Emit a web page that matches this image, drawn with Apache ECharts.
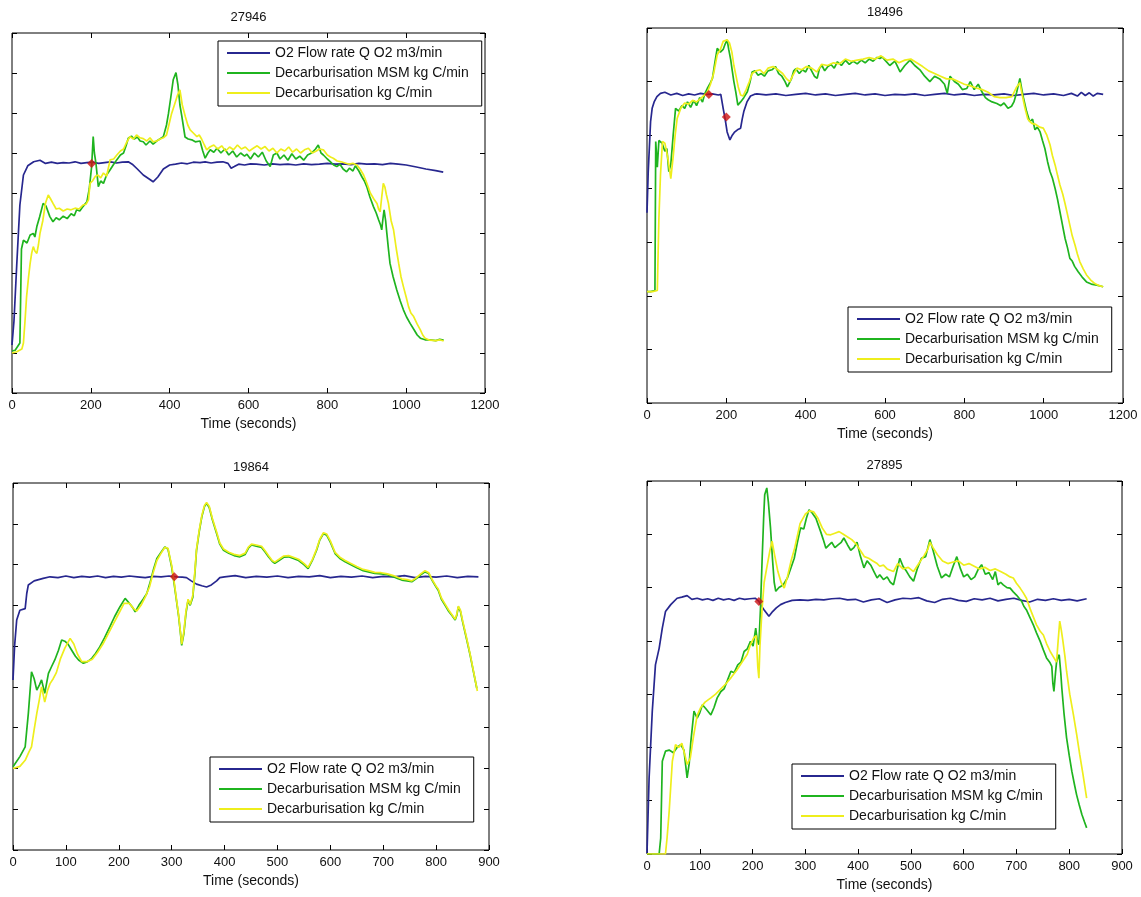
<!DOCTYPE html>
<html>
<head>
<meta charset="utf-8">
<script src="https://cdn.jsdelivr.net/npm/echarts@6/dist/echarts.min.js"></script>
<style>
html, body {margin: 0; padding: 0; background: #fff;}
#chart {width: 1141px; height: 897px;}
</style>
</head>
<body>
<div id="chart"></div>
<script>
var names = ['O2 Flow rate Q O2 m3/min', 'Decarburisation MSM kg C/min', 'Decarburisation kg C/min'];
var titles = ['27946', '18496', '19864', '27895'];
var xMax = [1200, 1200, 900, 900];
var xStep = [200, 200, 100, 100];
var yMax = [9, 7, 9, 7];

// heat 27946
var o2_27946 = [[0,1.2],[5,1.8],[12,3.2],[20,4.7],[29,5.45],[40,5.68],[55,5.78],[71,5.82],[85,5.74],[100,5.77],[115,5.74],[130,5.76],[145,5.75],[160,5.78],[175,5.74],[190,5.76],[205,5.77],[220,5.74],[235,5.76],[250,5.78],[265,5.75],[280,5.77],[295,5.78],[305,5.72],[318,5.6],[333,5.45],[348,5.35],[358,5.28],[370,5.4],[384,5.6],[400,5.7],[415,5.72],[430,5.75],[445,5.73],[460,5.77],[477,5.76],[490,5.78],[505,5.75],[520,5.77],[535,5.78],[548,5.74],[556,5.62],[564,5.66],[575,5.72],[590,5.7],[605,5.73],[620,5.72],[640,5.7],[660,5.73],[680,5.71],[700,5.72],[720,5.7],[740,5.73],[760,5.71],[780,5.72],[800,5.74],[820,5.72],[840,5.73],[860,5.71],[880,5.74],[900,5.72],[920,5.73],[940,5.71],[960,5.74],[980,5.72],[1000,5.7],[1026,5.65],[1050,5.6],[1075,5.56],[1094,5.52]];
var msm_27946 = [[0,1.05],[8,1.07],[20,1.25],[24,3.6],[29,3.82],[38,3.75],[46,3.95],[54,3.99],[58,3.9],[63,4.16],[70,4.4],[79,4.74],[86,4.68],[96,4.41],[104,4.28],[112,4.38],[120,4.33],[130,4.42],[140,4.36],[150,4.48],[158,4.43],[164,4.58],[172,4.55],[180,4.66],[190,4.78],[196,5.1],[202,5.66],[206,6.41],[209,6.0],[213,5.74],[219,5.16],[225,5.3],[232,5.24],[240,5.45],[249,5.58],[258,5.72],[266,5.83],[275,5.95],[283,6.0],[290,6.2],[295,6.37],[303,6.42],[310,6.35],[318,6.4],[325,6.3],[333,6.28],[340,6.2],[350,6.3],[358,6.22],[367,6.3],[375,6.35],[384,6.41],[392,6.7],[397,6.99],[403,7.4],[409,7.83],[416,8.01],[421,7.7],[426,7.2],[431,6.91],[439,6.4],[447,6.35],[456,6.33],[465,6.28],[477,6.3],[484,6.05],[490,5.87],[497,6.0],[503,6.08],[512,6.02],[520,6.12],[530,6.0],[540,6.1],[550,5.95],[560,6.05],[570,5.9],[580,6.0],[590,5.92],[596,5.97],[605,5.85],[615,6.0],[625,5.9],[635,6.02],[645,5.8],[655,5.66],[663,5.95],[672,6.0],[680,5.85],[690,5.95],[700,5.82],[710,5.98],[720,5.85],[730,5.92],[740,5.82],[750,5.95],[760,6.0],[770,6.1],[777,6.2],[784,6.0],[790,5.95],[800,5.85],[808,5.78],[816,5.7],[824,5.66],[832,5.72],[840,5.6],[849,5.53],[856,5.62],[865,5.55],[871,5.68],[880,5.55],[888,5.4],[894,5.3],[900,5.16],[908,4.9],[917,4.66],[924,4.5],[930,4.33],[935,4.2],[938,4.08],[941,4.35],[944,4.58],[948,4.3],[951,3.99],[955,3.6],[959,3.24],[967,2.9],[976,2.58],[985,2.3],[993,2.08],[1001,1.9],[1010,1.74],[1020,1.58],[1028,1.45],[1036,1.37],[1048,1.33],[1061,1.33],[1075,1.31],[1085,1.34],[1095,1.32]];
var dec_27946 = [[0,1.0],[12,1.03],[25,1.1],[29,1.25],[33,1.8],[37,2.41],[42,2.9],[46,3.24],[50,3.5],[54,3.66],[58,3.55],[63,3.49],[67,3.7],[71,3.99],[78,4.3],[85,4.75],[92,4.95],[98,4.85],[104,4.74],[112,4.6],[120,4.62],[130,4.55],[140,4.6],[150,4.58],[160,4.62],[170,4.6],[180,4.7],[188,4.72],[194,4.83],[198,5.24],[204,5.3],[211,5.41],[218,5.45],[225,5.38],[232,5.5],[240,5.42],[249,5.83],[258,5.85],[266,5.95],[275,6.05],[283,6.1],[290,6.25],[299,6.41],[308,6.35],[316,6.45],[325,6.38],[333,6.36],[342,6.3],[350,6.38],[358,6.28],[367,6.3],[376,6.35],[384,6.38],[392,6.45],[398,6.7],[405,6.99],[412,7.2],[420,7.45],[426,7.58],[432,7.2],[440,6.9],[446,6.7],[452,6.58],[460,6.5],[469,6.41],[475,6.45],[481,6.35],[488,6.2],[494,6.08],[502,6.15],[512,6.2],[522,6.1],[532,6.18],[542,6.05],[552,6.15],[562,6.08],[572,6.2],[582,6.1],[592,6.15],[602,6.05],[612,6.12],[622,6.18],[632,6.1],[642,6.16],[652,6.05],[662,6.12],[672,6.0],[682,6.1],[692,6.05],[702,6.15],[712,6.02],[722,6.1],[732,6.0],[742,6.08],[752,6.12],[762,6.0],[772,6.05],[780,6.1],[790,6.08],[800,5.95],[808,5.9],[815,5.87],[825,5.8],[835,5.78],[845,5.75],[855,5.72],[865,5.74],[875,5.7],[883,5.6],[892,5.45],[900,5.25],[909,5.0],[918,4.85],[926,4.74],[930,4.6],[934,4.53],[938,4.9],[942,5.24],[946,5.15],[950,4.95],[955,4.74],[962,4.3],[968,4.08],[975,3.6],[981,3.24],[987,2.9],[993,2.66],[1000,2.4],[1006,2.16],[1012,2.0],[1019,1.91],[1028,1.72],[1036,1.58],[1042,1.45],[1048,1.37],[1060,1.32],[1075,1.31],[1085,1.33],[1095,1.3]];
var mark_27946 = [[202,5.74]];

// heat 18496
var o2_18496 = [[0,3.55],[3,4.3],[9,5.25],[13,5.5],[18,5.62],[25,5.72],[34,5.78],[45,5.8],[60,5.75],[75,5.78],[90,5.74],[105,5.77],[120,5.75],[135,5.78],[150,5.76],[165,5.77],[180,5.75],[186,5.76],[192,5.5],[197,5.3],[202,5.06],[209,4.91],[215,5.0],[220,5.05],[228,5.1],[236,5.13],[240,5.3],[244,5.44],[252,5.62],[261,5.73],[270,5.76],[277,5.77],[300,5.75],[325,5.77],[350,5.74],[375,5.76],[400,5.78],[425,5.75],[450,5.77],[475,5.74],[500,5.76],[525,5.78],[550,5.75],[575,5.77],[600,5.74],[625,5.76],[650,5.75],[675,5.77],[700,5.74],[725,5.76],[750,5.78],[775,5.75],[800,5.77],[825,5.74],[850,5.76],[875,5.75],[900,5.77],[925,5.74],[950,5.76],[975,5.78],[1000,5.75],[1025,5.77],[1050,5.74],[1070,5.78],[1085,5.73],[1095,5.8],[1105,5.74],[1115,5.79],[1125,5.73],[1135,5.78],[1150,5.76]];
var msm_18496 = [[0,2.08],[9,2.08],[20,2.1],[22,4.88],[26,4.4],[30,4.9],[38,4.85],[45,4.7],[50,4.75],[55,4.32],[60,4.45],[66,5.0],[72,5.5],[80,5.45],[88,5.55],[95,5.5],[102,5.62],[110,5.52],[118,5.65],[125,5.55],[133,5.7],[140,5.62],[146,5.78],[152,5.87],[158,5.95],[165,6.06],[171,6.35],[177,6.62],[185,6.55],[192,6.6],[197,6.7],[202,6.78],[206,6.6],[211,6.41],[215,6.2],[219,6.0],[224,5.8],[229,5.56],[236,5.62],[244,5.7],[253,5.81],[260,6.0],[265,6.18],[272,6.2],[280,6.12],[288,6.15],[296,6.1],[305,6.2],[315,6.22],[324,6.28],[332,6.15],[340,6.1],[348,6.0],[354,5.9],[358,5.87],[364,6.05],[370,6.2],[375,6.24],[384,6.15],[392,6.22],[400,6.18],[408,6.3],[415,6.2],[422,6.1],[429,6.06],[435,6.25],[441,6.3],[448,6.2],[456,6.28],[464,6.32],[472,6.25],[480,6.37],[490,6.3],[500,6.4],[510,6.32],[520,6.38],[530,6.33],[540,6.4],[550,6.35],[560,6.42],[570,6.38],[580,6.45],[587,6.43],[593,6.46],[600,6.4],[612,6.3],[625,6.38],[638,6.18],[650,6.3],[663,6.4],[675,6.3],[688,6.22],[700,6.1],[713,6.0],[725,6.1],[738,6.05],[750,5.95],[757,5.78],[764,6.1],[775,6.0],[785,5.95],[795,5.85],[806,5.87],[815,6.0],[825,5.85],[835,5.95],[845,5.8],[853,5.7],[860,5.66],[870,5.62],[882,5.59],[892,5.55],[900,5.6],[910,5.5],[919,5.54],[925,5.62],[932,5.8],[940,6.06],[945,5.85],[949,5.7],[957,5.44],[965,5.25],[972,5.3],[978,5.1],[984,5.15],[991,5.06],[997,4.9],[1003,4.75],[1010,4.5],[1016,4.32],[1022,4.2],[1029,4.0],[1035,3.8],[1041,3.57],[1048,3.3],[1054,3.07],[1060,2.9],[1066,2.7],[1072,2.65],[1078,2.55],[1087,2.45],[1097,2.35],[1108,2.26],[1120,2.22],[1134,2.2],[1150,2.17]];
var dec_18496 = [[0,2.08],[14,2.08],[26,2.1],[30,3.45],[34,4.26],[39,4.88],[45,4.85],[52,4.6],[56,4.4],[60,4.19],[66,4.6],[71,5.0],[76,5.31],[85,5.5],[95,5.6],[105,5.58],[115,5.65],[125,5.62],[135,5.68],[145,5.75],[152,5.8],[160,5.95],[168,6.15],[177,6.5],[185,6.6],[192,6.75],[202,6.78],[208,6.72],[214,6.55],[219,6.3],[224,6.12],[230,5.9],[236,5.75],[242,5.73],[250,5.85],[258,6.0],[265,6.15],[275,6.2],[285,6.22],[295,6.15],[305,6.25],[318,6.28],[330,6.22],[342,6.15],[352,6.05],[360,6.0],[368,6.12],[378,6.25],[390,6.22],[402,6.28],[415,6.25],[428,6.18],[440,6.32],[455,6.3],[470,6.35],[485,6.33],[500,6.42],[515,6.38],[530,6.4],[545,6.42],[560,6.45],[575,6.42],[590,6.48],[605,6.4],[620,6.42],[635,6.35],[650,6.4],[665,6.42],[680,6.35],[695,6.28],[710,6.2],[725,6.15],[740,6.1],[755,6.05],[770,6.05],[785,6.0],[800,5.95],[815,5.92],[830,5.88],[845,5.85],[860,5.8],[875,5.72],[890,5.7],[905,5.7],[920,5.72],[932,5.9],[940,5.98],[946,5.75],[953,5.5],[960,5.3],[970,5.22],[980,5.2],[990,5.15],[999,5.13],[1008,5.0],[1016,4.82],[1022,4.62],[1029,4.44],[1035,4.25],[1041,4.07],[1048,3.9],[1054,3.72],[1060,3.52],[1066,3.32],[1072,3.12],[1079,2.95],[1085,2.78],[1091,2.64],[1100,2.5],[1108,2.39],[1118,2.3],[1129,2.23],[1140,2.19],[1150,2.17]];
var mark_18496 = [[156,5.76],[200,5.34]];

// heat 19864
var o2_19864 = [[0,4.17],[3,5.0],[7,5.64],[13,5.88],[23,5.92],[26,6.29],[29,6.5],[40,6.6],[57,6.66],[70,6.7],[85,6.68],[100,6.72],[115,6.68],[130,6.71],[145,6.69],[160,6.72],[175,6.68],[190,6.71],[205,6.69],[220,6.72],[235,6.7],[250,6.68],[265,6.71],[280,6.7],[295,6.72],[310,6.7],[320,6.69],[328,6.68],[337,6.6],[347,6.52],[357,6.48],[366,6.45],[375,6.5],[385,6.6],[391,6.68],[400,6.7],[420,6.73],[440,6.68],[460,6.71],[480,6.69],[500,6.72],[520,6.68],[540,6.71],[560,6.7],[580,6.73],[600,6.68],[620,6.71],[640,6.69],[660,6.72],[680,6.68],[700,6.71],[720,6.7],[740,6.73],[760,6.68],[780,6.71],[800,6.69],[820,6.72],[840,6.68],[860,6.71],[880,6.7]];
var msm_19864 = [[0,2.04],[13,2.29],[23,2.53],[29,3.35],[35,4.37],[40,4.2],[45,3.92],[50,4.05],[54,4.17],[60,3.84],[67,4.33],[73,4.5],[79,4.66],[86,4.9],[92,5.15],[98,5.12],[104,5.05],[111,4.9],[118,4.75],[124,4.66],[133,4.58],[141,4.62],[149,4.7],[156,4.82],[164,4.98],[173,5.2],[183,5.47],[192,5.72],[202,5.96],[212,6.17],[220,6.05],[226,5.95],[231,5.84],[238,6.0],[246,6.15],[253,6.29],[260,6.6],[266,6.9],[272,7.15],[280,7.3],[287,7.43],[293,7.38],[300,6.94],[305,6.5],[309,6.13],[313,5.75],[316,5.39],[319,5.02],[323,5.3],[327,5.8],[331,6.13],[335,6.0],[340,6.2],[344,6.8],[347,7.35],[352,7.8],[357,8.17],[362,8.42],[366,8.5],[371,8.4],[377,8.1],[385,7.76],[391,7.5],[398,7.35],[408,7.28],[418,7.22],[429,7.19],[439,7.25],[445,7.4],[451,7.48],[460,7.45],[470,7.42],[477,7.3],[483,7.19],[490,7.08],[495,7.03],[503,7.1],[512,7.18],[521,7.19],[530,7.15],[540,7.1],[550,7.0],[558,6.9],[566,7.1],[574,7.35],[580,7.6],[587,7.76],[593,7.72],[600,7.55],[609,7.27],[618,7.15],[628,7.07],[638,7.0],[650,6.92],[662,6.85],[672,6.82],[684,6.78],[696,6.77],[708,6.75],[719,6.7],[727,6.66],[735,6.62],[745,6.6],[754,6.58],[762,6.65],[771,6.75],[779,6.82],[786,6.78],[793,6.6],[800,6.45],[804,6.37],[810,6.15],[817,6.0],[824,5.85],[830,5.75],[836,5.64],[839,5.75],[842,5.96],[846,5.85],[850,5.6],[858,5.15],[864,4.8],[870,4.41],[877,3.96]];
var dec_19864 = [[0,2.0],[13,2.05],[23,2.2],[30,2.4],[35,2.53],[40,2.95],[45,3.35],[50,3.7],[54,4.0],[60,3.63],[65,3.9],[70,4.08],[76,4.2],[82,4.35],[90,4.7],[98,4.95],[108,5.19],[115,5.05],[122,4.8],[130,4.62],[140,4.62],[150,4.68],[160,4.85],[170,5.05],[180,5.3],[190,5.55],[200,5.8],[210,6.05],[220,6.05],[228,5.92],[234,5.86],[242,6.0],[250,6.2],[258,6.45],[265,6.8],[272,7.1],[280,7.28],[287,7.42],[293,7.4],[300,6.98],[305,6.55],[309,6.15],[313,5.78],[316,5.42],[319,5.05],[323,5.35],[327,5.85],[331,6.15],[335,6.02],[340,6.25],[344,6.85],[347,7.38],[352,7.83],[357,8.2],[362,8.45],[366,8.52],[371,8.43],[377,8.13],[385,7.8],[391,7.53],[398,7.38],[408,7.3],[418,7.25],[429,7.22],[439,7.28],[445,7.43],[451,7.5],[460,7.48],[470,7.45],[477,7.33],[483,7.22],[490,7.1],[495,7.06],[503,7.13],[512,7.21],[521,7.22],[530,7.18],[540,7.13],[550,7.03],[558,6.93],[566,7.12],[574,7.38],[580,7.62],[587,7.78],[593,7.75],[600,7.58],[609,7.3],[618,7.18],[628,7.1],[638,7.03],[650,6.95],[662,6.88],[672,6.85],[684,6.81],[696,6.8],[708,6.77],[719,6.73],[727,6.69],[735,6.65],[745,6.63],[754,6.6],[762,6.67],[771,6.77],[779,6.85],[786,6.8],[793,6.62],[800,6.47],[804,6.4],[810,6.18],[817,6.03],[824,5.88],[830,5.77],[836,5.66],[839,5.78],[842,5.98],[846,5.88],[850,5.63],[858,5.18],[864,4.82],[870,4.43],[878,3.9]];
var mark_19864 = [[305,6.7]];

// heat 27895
var o2_27895 = [[0,0.02],[4,1.43],[10,2.68],[16,3.55],[23,3.86],[29,4.24],[35,4.55],[45,4.68],[57,4.8],[66,4.82],[76,4.85],[85,4.78],[95,4.8],[105,4.77],[115,4.79],[125,4.76],[135,4.8],[145,4.77],[155,4.79],[165,4.76],[175,4.8],[185,4.78],[195,4.79],[205,4.8],[212,4.74],[217,4.65],[222,4.58],[231,4.46],[238,4.55],[245,4.62],[253,4.68],[262,4.72],[275,4.76],[290,4.77],[305,4.76],[320,4.78],[335,4.77],[350,4.79],[365,4.8],[380,4.77],[395,4.78],[410,4.73],[425,4.77],[440,4.79],[455,4.72],[470,4.77],[485,4.8],[500,4.79],[515,4.81],[530,4.75],[545,4.72],[560,4.78],[575,4.8],[590,4.76],[605,4.74],[620,4.79],[635,4.77],[650,4.8],[665,4.75],[680,4.78],[695,4.8],[710,4.76],[725,4.73],[740,4.78],[755,4.76],[770,4.79],[785,4.76],[800,4.78],[815,4.75],[833,4.79]];
var msm_27895 = [[0,0],[23,0],[26,0.3],[29,1.74],[35,1.93],[42,1.95],[50,1.9],[57,2.0],[64,2.05],[70,1.95],[76,1.43],[80,1.7],[83,2.1],[89,2.68],[95,2.55],[100,2.65],[105,2.8],[112,2.72],[121,2.61],[127,2.75],[133,2.93],[140,3.05],[146,3.1],[152,3.25],[159,3.43],[165,3.4],[172,3.55],[178,3.6],[184,3.8],[190,3.85],[196,3.99],[201,3.9],[206,4.24],[209,4.0],[212,3.93],[215,4.6],[218,5.49],[221,6.3],[223,6.74],[227,6.87],[230,6.6],[234,6.12],[238,5.5],[241,5.1],[244,4.93],[250,5.0],[258,5.05],[266,5.18],[272,5.35],[279,5.55],[285,5.85],[291,6.12],[297,6.1],[302,6.3],[307,6.46],[313,6.4],[320,6.3],[329,6.05],[334,5.9],[339,5.74],[345,5.8],[350,5.85],[356,5.75],[362,5.8],[368,5.85],[373,5.93],[380,5.8],[386,5.7],[392,5.75],[398,5.85],[404,5.6],[411,5.37],[417,5.5],[424,5.42],[430,5.3],[436,5.18],[441,5.24],[448,5.15],[455,5.2],[461,5.1],[467,5.05],[473,5.3],[479,5.55],[485,5.4],[492,5.3],[498,5.2],[505,5.12],[512,5.35],[520,5.55],[528,5.58],[536,5.9],[542,5.7],[550,5.4],[558,5.18],[566,5.25],[573,5.2],[580,5.4],[587,5.58],[594,5.35],[600,5.2],[607,5.25],[614,5.15],[621,5.2],[628,5.35],[634,5.43],[641,5.25],[648,5.28],[655,5.15],[660,5.3],[665,5.05],[670,5.1],[675,5.05],[682,5.0],[688,4.99],[694,4.92],[700,4.86],[705,4.8],[710,4.74],[714,4.65],[719,4.58],[725,4.45],[732,4.3],[738,4.15],[745,3.99],[751,3.83],[757,3.68],[763,3.6],[767,3.52],[769,3.2],[771,3.05],[774,3.4],[776,3.6],[779,3.7],[781,3.74],[784,3.4],[786,3.11],[790,2.65],[795,2.18],[800,1.85],[805,1.55],[810,1.3],[814,1.11],[819,0.92],[824,0.74],[829,0.6],[833,0.49]];
var dec_27895 = [[0,0],[35,0],[38,0.3],[42,0.8],[48,1.74],[54,2.05],[60,2.0],[66,2.08],[72,1.85],[76,1.68],[82,1.8],[88,2.2],[95,2.6],[102,2.75],[110,2.85],[121,2.93],[130,3.0],[140,3.1],[150,3.2],[160,3.32],[170,3.45],[180,3.6],[190,3.75],[196,3.93],[202,4.05],[207,4.1],[210,3.5],[212,3.3],[214,3.9],[218,4.6],[222,5.1],[228,5.43],[233,5.7],[237,5.87],[242,5.6],[248,5.3],[254,5.1],[260,4.99],[266,5.2],[273,5.5],[280,5.75],[290,6.2],[300,6.38],[308,6.44],[316,6.42],[324,6.3],[332,6.12],[340,6.0],[348,5.99],[356,6.02],[364,6.05],[372,6.0],[380,5.95],[388,5.9],[396,5.82],[404,5.7],[412,5.58],[420,5.55],[428,5.5],[436,5.45],[441,5.4],[448,5.42],[455,5.35],[467,5.3],[475,5.45],[485,5.35],[495,5.38],[505,5.3],[515,5.45],[525,5.6],[532,5.72],[536,5.85],[542,5.75],[550,5.62],[560,5.5],[570,5.45],[580,5.48],[590,5.5],[600,5.42],[610,5.45],[620,5.4],[630,5.35],[640,5.38],[650,5.32],[660,5.35],[670,5.3],[680,5.25],[688,5.2],[694,5.18],[700,5.08],[707,4.99],[713,4.9],[719,4.8],[726,4.6],[732,4.45],[738,4.3],[745,4.18],[751,4.11],[757,3.95],[764,3.8],[770,3.7],[776,3.6],[779,4.0],[782,4.37],[785,4.2],[788,4.0],[792,3.7],[795,3.43],[801,3.0],[808,2.61],[814,2.25],[820,1.86],[826,1.5],[833,1.05]];
var mark_27895 = [[212,4.74]];

var o2Data = [o2_27946, o2_18496, o2_19864, o2_27895];
var msmData = [msm_27946, msm_18496, msm_19864, msm_27895];
var decData = [dec_27946, dec_18496, dec_19864, dec_27895];
var markData = [mark_27946, mark_18496, mark_19864, mark_27895];

// panel boxes in px: left, top, width, height
var boxes = [[12, 33, 473, 360], [647, 28, 476, 375], [13, 483, 476, 367], [647, 481, 475, 373]];
var legendPos = [[218, 41], [848, 307], [210, 757], [792, 764]];
var colors = ['#27278f', '#1fb41f', '#eeee1c'];
var font = 'Liberation Sans, Arial, sans-serif';

var mychart = echarts.init(document.getElementById('chart'));

var grid = [], xAxis = [], yAxis = [], title = [], legend = [], series = [];

for (var i = 0; i < 4; i++) {
    var b = boxes[i];
    grid.push({left: b[0], top: b[1], width: b[2], height: b[3], show: true, borderColor: '#000', borderWidth: 1, backgroundColor: '#fff'});
    title.push({
        text: titles[i], left: b[0] + b[2] / 2, top: b[1] - 22, textAlign: 'center', padding: 0,
        textStyle: {fontFamily: font, fontSize: 13, fontWeight: 'normal', color: '#111'}
    });
    legend.push({
        data: names, orient: 'vertical', left: legendPos[i][0], top: legendPos[i][1],
        icon: 'rect', itemWidth: 43, itemHeight: 2, itemGap: 6,
        padding: [5, 13, 6, 9], borderColor: '#000', borderWidth: 1, backgroundColor: '#fff',
        textStyle: {fontFamily: font, fontSize: 14, lineHeight: 14, color: '#111'},
        selectedMode: false
    });
}

// bottom x / left y carry labels, top x / right y only add the inner ticks
for (var k = 0; k < 8; k++) {
    var g = k % 4;
    var main = k < 4;
    xAxis.push({
        type: 'value', gridIndex: g, position: main ? 'bottom' : 'top',
        min: 0, max: xMax[g], interval: xStep[g],
        axisLine: {show: false, onZero: false}, splitLine: {show: false},
        axisTick: {show: true, inside: true, length: 5, lineStyle: {color: '#000'}},
        axisLabel: {show: main, margin: 6, fontFamily: font, fontSize: 13, color: '#111',
            formatter: function (v) { return String(v); }},
        name: main ? 'Time (seconds)' : '', nameLocation: 'middle', nameGap: 24,
        nameTextStyle: {fontFamily: font, fontSize: 14, color: '#111'}
    });
    yAxis.push({
        type: 'value', gridIndex: g, position: main ? 'left' : 'right',
        min: 0, max: yMax[g], interval: 1,
        axisLine: {show: false, onZero: false}, splitLine: {show: false},
        axisTick: {show: true, inside: true, length: 5, lineStyle: {color: '#000'}},
        axisLabel: {show: false}
    });
}

for (var j = 0; j < 4; j++) {
    var lists = [o2Data[j], msmData[j], decData[j]];
    for (var s = 0; s < 3; s++) {
        series.push({
            name: names[s], type: 'line', xAxisIndex: j, yAxisIndex: j,
            data: lists[s], showSymbol: false, symbol: 'none', animation: false,
            lineStyle: {color: colors[s], width: 1.7}, itemStyle: {color: colors[s]},
            z: 2 + s
        });
    }
    series.push({
        name: 'marker', type: 'scatter', xAxisIndex: j, yAxisIndex: j,
        data: markData[j], symbol: 'diamond', symbolSize: 9, animation: false,
        itemStyle: {color: '#cc1111'}, z: 10
    });
}

option = {
    backgroundColor: '#fff',
    animation: false,
    title: title,
    legend: legend,
    grid: grid,
    xAxis: xAxis,
    yAxis: yAxis,
    series: series
};

mychart.setOption(option);
</script>
</body>
</html>
